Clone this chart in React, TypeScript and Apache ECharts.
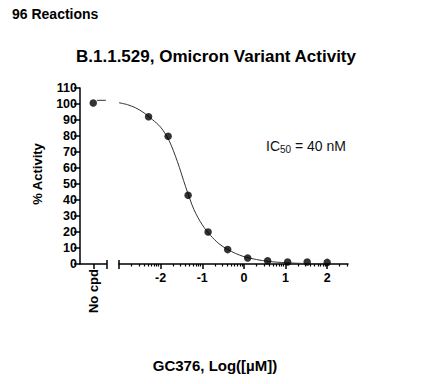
import React, { useEffect, useRef } from 'react';
import * as echarts from 'echarts';

// ---- data ----
const doseLog = [2, 1.52, 1.05, 0.57, 0.09, -0.39, -0.86, -1.34, -1.82, -2.29];
const activity = [1.0, 1.2, 1.2, 2.0, 3.8, 9.0, 20.0, 43.0, 79.8, 92.0];
const noCpdActivity = 100.6;
const noCpdTop = 102.3;
const curveX = [-3.0, -2.8, -2.6, -2.4, -2.2, -2.0, -1.8, -1.6, -1.4, -1.2, -1.0, -0.8, -0.6, -0.4, -0.2, 0.0, 0.3, 0.6, 1.0, 1.5, 2.05];
const curveY = [100.8, 99.6, 97.6, 94.5, 90.3, 85.5, 77.3, 64.2, 48.3, 34.0, 24.5, 17.8, 12.7, 9.2, 6.6, 4.6, 2.8, 1.6, 0.8, 0.3, 0.1];

// ---- axis ticks ----
const xMajorTicks = [-3, -2, -1, 0, 1, 2];
const xTickLabels = [-2, -1, 0, 1, 2];
const decades = [-3, -2, -1, 0, 1, 2];
const minorMultipliers = [2, 3, 4, 5, 6, 7, 8, 9];
const X_MIN = -3;
const X_MAX = 2.5;
const Y_MIN = 0;
const Y_MAX = 110;
const Y_STEP = 10;

const FONT = "'Liberation Sans', Arial, Helvetica, sans-serif";
const INK = '#000';

const minorTicks: number[] = [];
decades.forEach((d) => {
  minorMultipliers.forEach((m) => {
    const v = d + Math.log10(m);
    if (v <= X_MAX) minorTicks.push(v);
  });
});

export default function App() {
  const ref = useRef<HTMLDivElement>(null);

  useEffect(() => {
    if (!ref.current) return;
    const chart = echarts.init(ref.current, null, { renderer: 'svg' });
    const axisLineStyle = { color: INK, width: 1.5 };
    const labelStyle = { color: INK, fontFamily: FONT, fontWeight: 'bold' as const, fontSize: 12.5 };

    chart.setOption({
      animation: false,
      backgroundColor: '#fff',
      grid: [
        { left: 80, top: 88, width: 26.5, height: 176, outerBoundsMode: 'none' },
        { left: 119, top: 88, width: 229, height: 176, outerBoundsMode: 'none' },
      ],
      xAxis: [
        {
          gridIndex: 0, type: 'value', position: 'bottom', min: 0, max: 2, interval: 1,
          axisLine: { show: true, onZero: false, lineStyle: axisLineStyle },
          axisTick: { show: true, customValues: [1, 2], length: 5, lineStyle: axisLineStyle },
          axisLabel: { customValues: [1], formatter: () => 'No cpd', rotate: 90, margin: 5, ...labelStyle, fontSize: 13 },
          splitLine: { show: false },
        },
        {
          gridIndex: 0, type: 'value', position: 'bottom', min: 0, max: 2, interval: 1,
          axisLine: { show: false, onZero: false },
          axisTick: { show: true, inside: true, customValues: [2], length: 4, lineStyle: axisLineStyle },
          axisLabel: { show: false },
          splitLine: { show: false },
        },
        {
          gridIndex: 1, type: 'value', position: 'bottom', min: X_MIN, max: X_MAX, interval: 1,
          axisLine: { show: true, onZero: false, lineStyle: axisLineStyle },
          axisTick: { show: true, customValues: xMajorTicks, length: 5, lineStyle: axisLineStyle },
          axisLabel: { customValues: xTickLabels, margin: 7, ...labelStyle },
          splitLine: { show: false },
        },
        {
          gridIndex: 1, type: 'value', position: 'bottom', min: X_MIN, max: X_MAX, interval: 1,
          axisLine: { show: false, onZero: false },
          axisTick: { show: true, inside: true, customValues: [X_MIN], length: 4, lineStyle: axisLineStyle },
          axisLabel: { show: false },
          splitLine: { show: false },
        },
        {
          gridIndex: 1, type: 'value', position: 'bottom', min: X_MIN, max: X_MAX, interval: 1,
          axisLine: { show: false, onZero: false },
          axisTick: { show: true, customValues: minorTicks, length: 2.5, lineStyle: { color: INK, width: 1.2 } },
          axisLabel: { show: false },
          splitLine: { show: false },
        },
      ],
      yAxis: [
        {
          gridIndex: 0, type: 'value', min: Y_MIN, max: Y_MAX, interval: Y_STEP,
          axisLine: { show: true, lineStyle: axisLineStyle },
          axisTick: { show: true, length: 6, lineStyle: axisLineStyle },
          axisLabel: { margin: 3, ...labelStyle },
          splitLine: { show: false },
        },
        { gridIndex: 1, type: 'value', min: Y_MIN, max: Y_MAX, interval: Y_STEP, show: false, splitLine: { show: false } },
      ],
      series: [
        {
          type: 'scatter', xAxisIndex: 0, yAxisIndex: 0, symbol: 'circle', symbolSize: 7.5,
          itemStyle: { color: INK }, data: [[1, noCpdActivity]],
        },
        {
          type: 'line', xAxisIndex: 0, yAxisIndex: 0, showSymbol: false, symbol: 'none',
          lineStyle: { color: '#333', width: 1 }, data: [[1.28, noCpdTop], [1.95, noCpdTop]],
        },
        {
          type: 'line', xAxisIndex: 2, yAxisIndex: 1, showSymbol: false, symbol: 'none',
          smooth: 0.3,
          lineStyle: { color: '#333', width: 1 },
          data: curveX.map((x, i) => [x, curveY[i]]),
        },
        {
          type: 'scatter', xAxisIndex: 2, yAxisIndex: 1, symbol: 'circle', symbolSize: 7.5,
          itemStyle: { color: INK }, data: doseLog.map((x, i) => [x, activity[i]]), z: 5,
        },
      ],
      graphic: [
        { type: 'text', x: 12, y: 14, style: { text: '96 Reactions', fill: INK, font: `bold 14px ${FONT}`, verticalAlign: 'middle' } },
        { type: 'text', x: 216, y: 56, style: { text: 'B.1.1.529, Omicron Variant Activity', fill: INK, font: `bold 17px ${FONT}`, align: 'center', verticalAlign: 'middle' } },
        { type: 'text', x: 37, y: 174, rotation: Math.PI / 2, style: { text: '% Activity', fill: INK, font: `bold 13px ${FONT}`, align: 'center', verticalAlign: 'middle' } },
        { type: 'text', x: 215, y: 365, style: { text: 'GC376, Log([\u00b5M])', fill: INK, font: `bold 15px ${FONT}`, align: 'center', verticalAlign: 'middle' } },
        {
          type: 'text', x: 266, y: 146,
          style: {
            text: '{m|IC}{s|50}{m| = 40 nM}',
            verticalAlign: 'middle',
            rich: {
              m: { fontFamily: FONT, fontSize: 14, fill: '#111', lineHeight: 16, verticalAlign: 'middle' },
              s: { fontFamily: FONT, fontSize: 10, fill: '#111', lineHeight: 16, padding: [7, 0, 0, 0], verticalAlign: 'bottom' },
            },
          },
        },
      ],
    });
    return () => chart.dispose();
  }, []);

  return <div ref={ref} style={{ position: 'fixed', left: 0, top: 0, width: 438, height: 384, background: '#fff' }} />;
}
